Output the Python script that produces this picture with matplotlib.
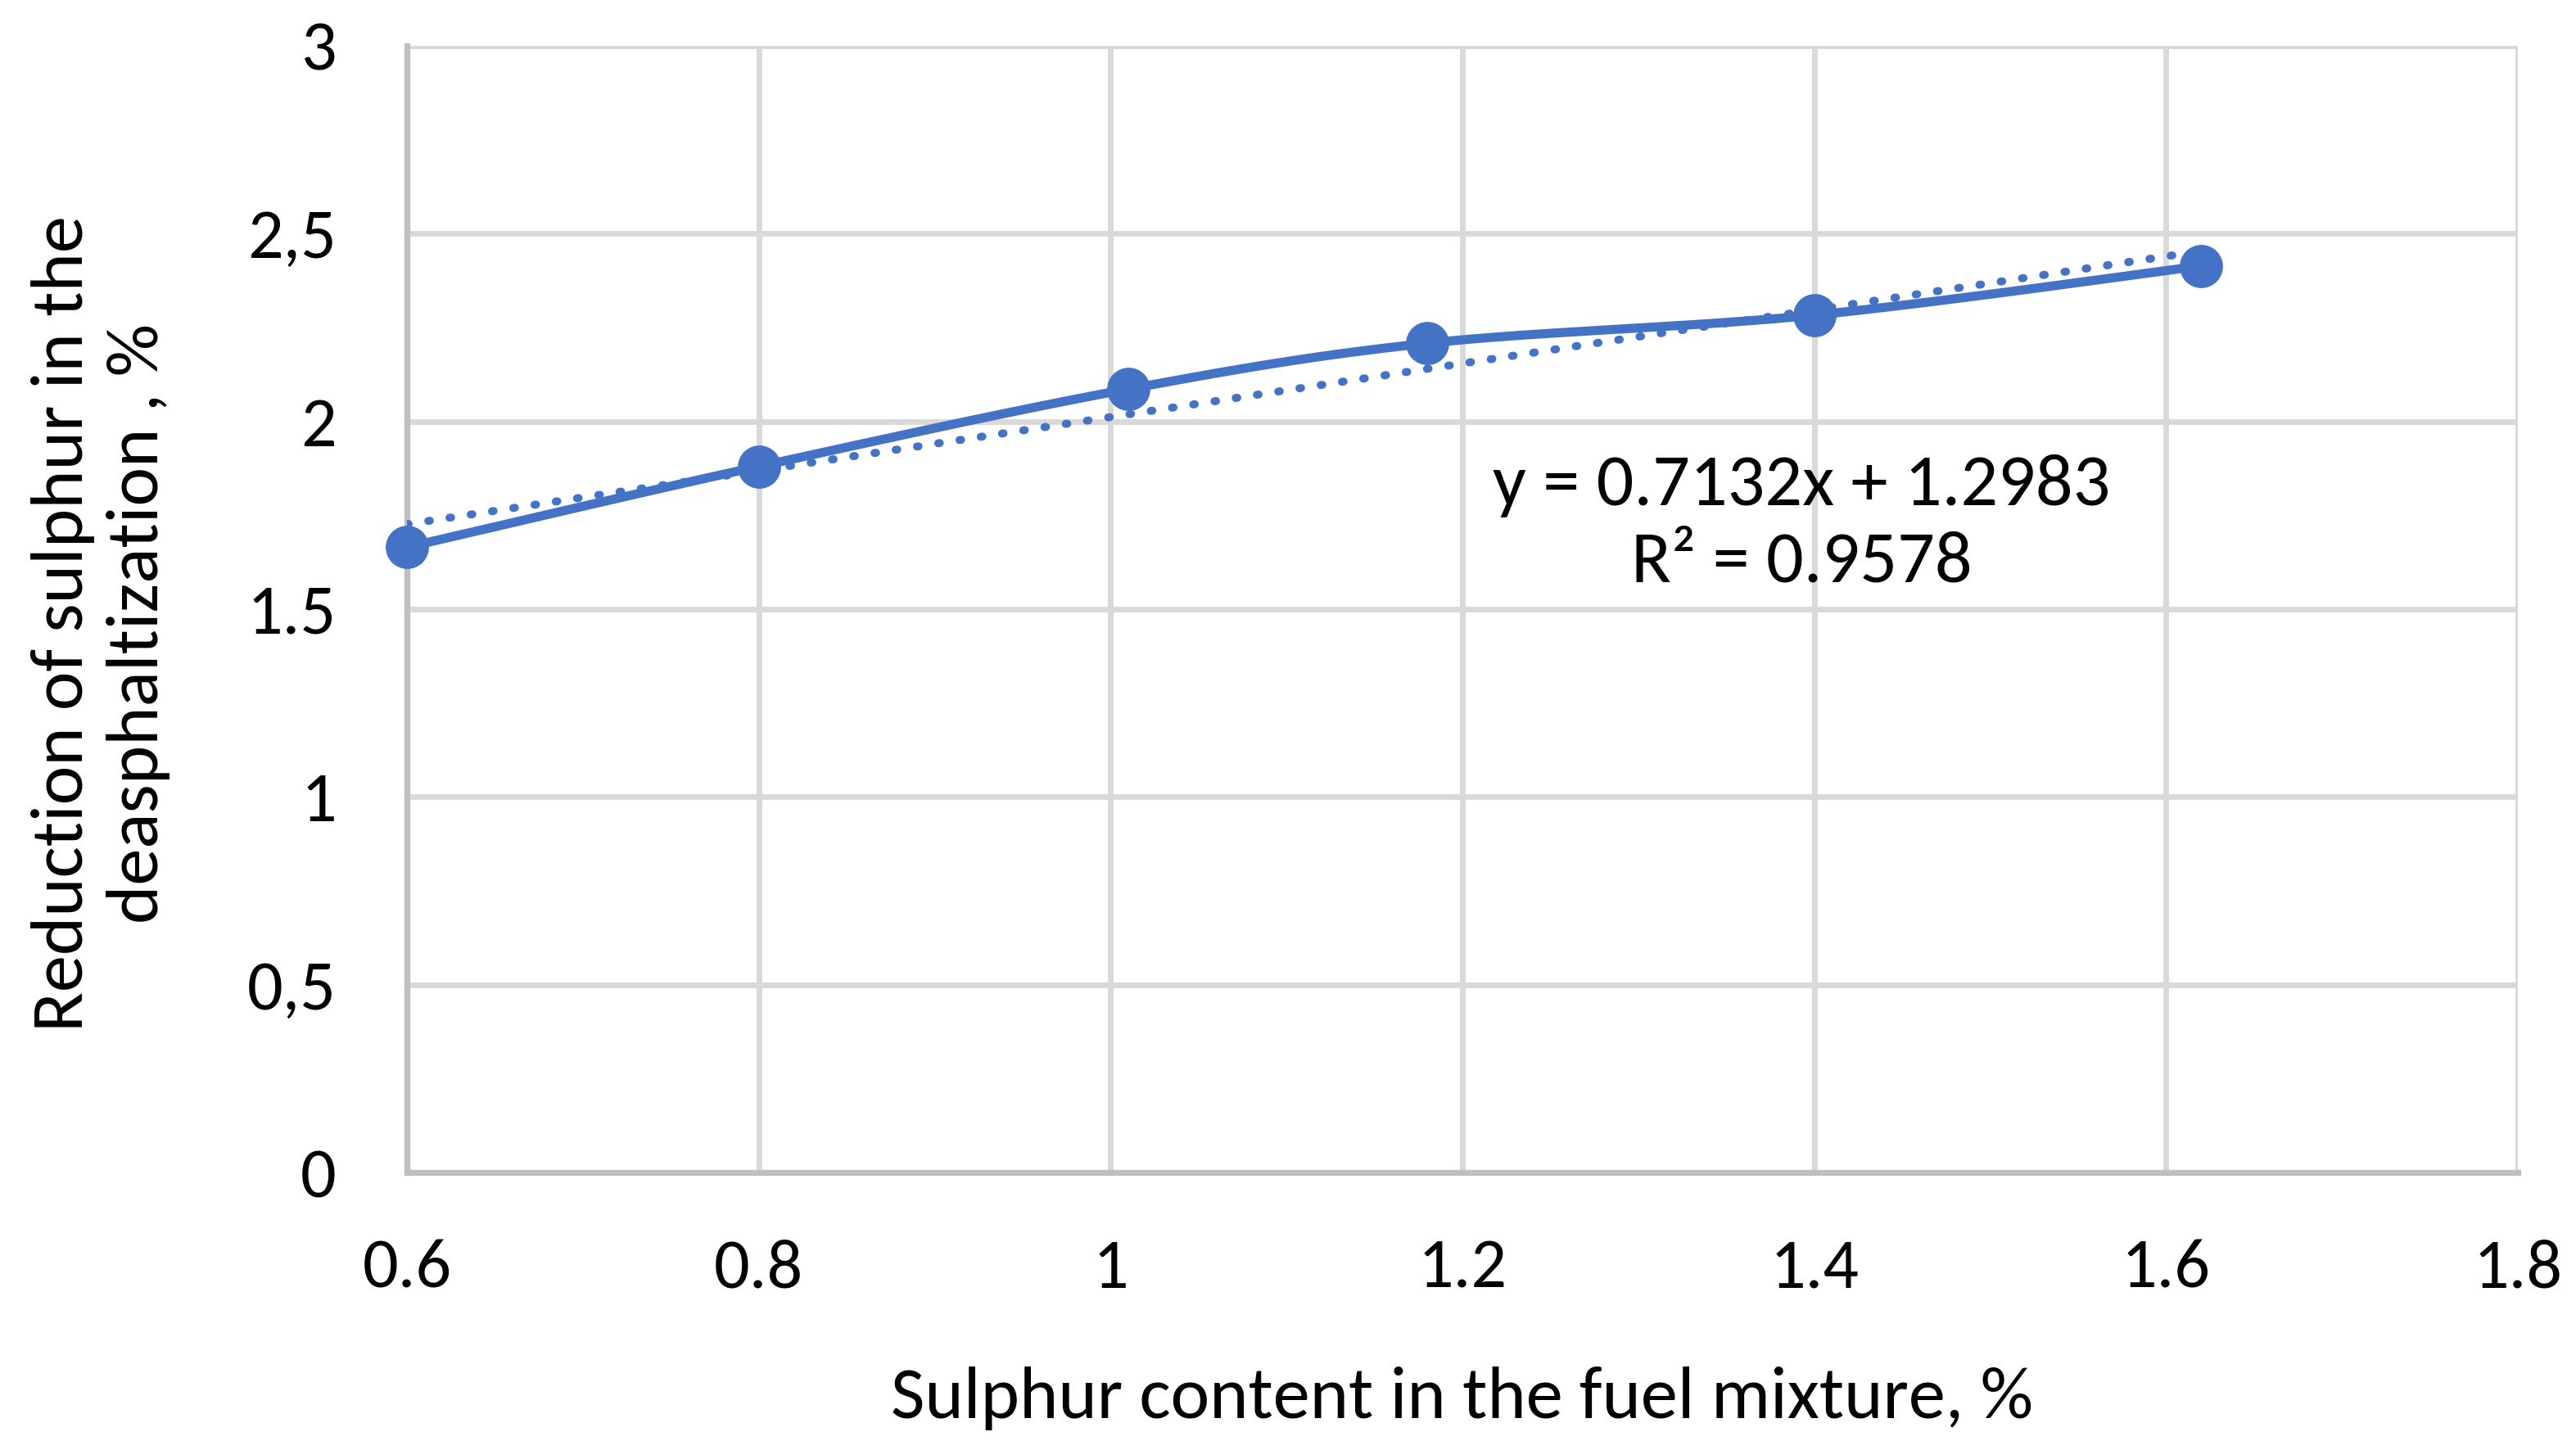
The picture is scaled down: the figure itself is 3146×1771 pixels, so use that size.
import numpy as np
import matplotlib
matplotlib.use('Agg')
import matplotlib.pyplot as plt
from matplotlib.ticker import FixedLocator, FixedFormatter

plt.rcParams['font.family'] = ['Carlito', 'Lato', 'DejaVu Sans']

# data
sulphur_content = [0.60, 0.80, 1.01, 1.18, 1.40, 1.62]
sulphur_reduction = [1.665, 1.88, 2.086, 2.208, 2.283, 2.414]

# trendline as printed on the chart
slope = 0.7132
intercept = 1.2983
r_squared = 0.9578

x_ticks = [0.6, 0.8, 1.0, 1.2, 1.4, 1.6, 1.8]
x_tick_labels = ['0.6', '0.8', '1', '1.2', '1.4', '1.6', '1.8']
y_ticks = [0, 0.5, 1, 1.5, 2, 2.5, 3]
y_tick_labels = ['0', '0,5', '1', '1.5', '2', '2,5', '3']

blue = '#4472C4'
grid_col = '#D9D9D9'
spine_col = '#BFBFBF'


def smooth_curve(x, y, n=40):
    # Catmull-Rom style bezier, like the "smoothed line" option in Excel
    x = np.asarray(x, float)
    y = np.asarray(y, float)
    pts = np.column_stack([x, y])
    pts = np.vstack([pts[0], pts, pts[-1]])
    out = []
    t = np.linspace(0, 1, n)[:, None]
    for i in range(1, len(pts) - 2):
        p0, p1, p2, p3 = pts[i - 1], pts[i], pts[i + 1], pts[i + 2]
        c1 = p1 + (p2 - p0) / 6.0
        c2 = p2 - (p3 - p1) / 6.0
        seg = ((1 - t) ** 3) * p1 + 3 * ((1 - t) ** 2) * t * c1 + 3 * (1 - t) * t ** 2 * c2 + t ** 3 * p2
        out.append(seg)
    out = np.vstack(out)
    return out[:, 0], out[:, 1]


fig = plt.figure(figsize=(15.73, 8.855), dpi=200)
ax = fig.add_axes([0.158, 0.1914, 0.8194, 0.777])

ax.set_xlim(0.6, 1.8)
ax.set_ylim(0, 3)

ax.xaxis.set_major_locator(FixedLocator(x_ticks))
ax.xaxis.set_major_formatter(FixedFormatter(x_tick_labels))
ax.yaxis.set_major_locator(FixedLocator(y_ticks))
ax.yaxis.set_major_formatter(FixedFormatter(y_tick_labels))

ax.grid(True, color=grid_col, linewidth=2.5, zorder=0)
ax.set_axisbelow(True)
for s in ['top', 'right']:
    ax.spines[s].set_visible(False)
for s in ['left', 'bottom']:
    ax.spines[s].set_color(spine_col)
    ax.spines[s].set_linewidth(2.6)
    ax.spines[s].set_zorder(1)

ax.tick_params(axis='both', length=0, labelsize=31, colors='black')
ax.tick_params(axis='y', pad=31)
ax.tick_params(axis='x', pad=29)

# trendline (dotted)
tx = np.array([sulphur_content[0], sulphur_content[-1]])
ax.plot(tx, slope * tx + intercept, color=blue, linewidth=3.5,
        linestyle=(0, (0.2, 2.5)), dash_capstyle='round', zorder=3)

# smoothed data line with markers
sx, sy = smooth_curve(sulphur_content, sulphur_reduction)
ax.plot(sx, sy, color=blue, linewidth=4.0, solid_capstyle='round', zorder=4)
ax.plot(sulphur_content, sulphur_reduction, 'o', color=blue, markersize=18, zorder=5, clip_on=False)

ax.text(1.393, 1.728, 'y = %.4fx + %.4f\nR² = %.4f' % (slope, intercept, r_squared),
        fontsize=32.5, ha='center', va='center', multialignment='center', linespacing=1.25)

ax.set_xlabel('Sulphur content in the fuel mixture, %', fontsize=32.5)
ax.xaxis.set_label_coords(0.5, -0.172)
ax.set_ylabel('Reduction of sulphur in the\ndeasphaltization , %', fontsize=32.5, linespacing=1.22)
ax.yaxis.set_label_coords(-0.112, 0.487)

fig.savefig('out.png', dpi=200, facecolor='white')
